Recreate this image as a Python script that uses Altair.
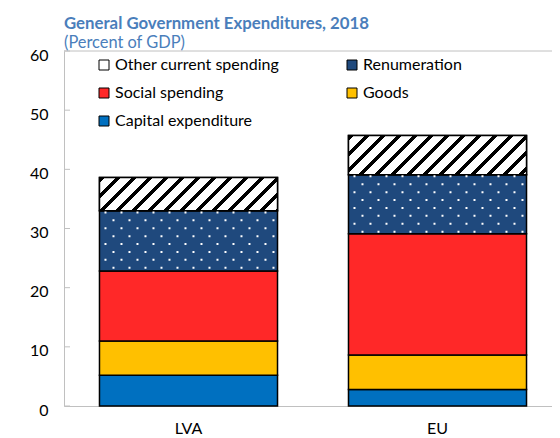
import math
import altair as alt
import pandas as pd

# ---- data (percent of GDP) ----
countries = ["LVA", "EU"]
stack_order = ["Capital expenditure", "Goods", "Social spending", "Renumeration", "Other current spending"]
capital = [5.2, 2.8]
goods = [5.8, 5.8]
social = [11.8, 20.5]
renumeration = [10.2, 10.0]
other = [5.6, 6.6]
y_ticks = [0, 10, 20, 30, 40, 50, 60]

legend_order = ["Other current spending", "Renumeration", "Social spending", "Goods", "Capital expenditure"]
legend_colors = ["#FFFFFF", "#1F497D", "#FF2828", "#FFC000", "#0070C0"]

# ---- layout constants ----
W_PLOT, H_PLOT = 488, 355
X_RANGE = 498
P_INNER, P_OUTER = 0.285, 0.1425
FONT = "Lato"

rows = []
for i, c in enumerate(countries):
    vals = [capital[i], goods[i], social[i], renumeration[i], other[i]]
    s = 0.0
    for name, v in zip(stack_order, vals):
        rows.append({"country": c, "series": name, "start": s, "end": s + v})
        s += v
df = pd.DataFrame(rows)

xscale = alt.Scale(domain=countries, range=[0, X_RANGE], paddingInner=P_INNER, paddingOuter=P_OUTER)
yscale = alt.Scale(domain=[0, 60], nice=False)

x_enc = alt.X("country:N", sort=countries, scale=xscale, title=None,
              axis=alt.Axis(labelAngle=0, ticks=False, domainColor="#C0C0C0", domainWidth=1,
                            labelFont=FONT, labelFontSize=16, labelColor="#000000", labelPadding=14))
y_enc = alt.Y("start:Q", scale=yscale, title=None,
              axis=alt.Axis(values=y_ticks, ticks=False, grid=False, domainColor="#C0C0C0", domainWidth=1,
                            labelFont=FONT, labelFontSize=16, labelColor="#000000", labelPadding=16,
                            labelOffset=4))

bars = alt.Chart(df).mark_bar(stroke="black", strokeWidth=1.5).encode(
    x=x_enc,
    y=y_enc,
    y2="end:Q",
    fill=alt.Fill("series:N", scale=alt.Scale(domain=legend_order, range=legend_colors),
                  legend=alt.Legend(title=None, orient="none", legendX=32, legendY=6, columns=2,
                                    direction="horizontal", labelLimit=400,
                                    columnPadding=64, rowPadding=12, symbolType="square",
                                    symbolSize=100, symbolStrokeColor="black", symbolStrokeWidth=1,
                                    labelFont=FONT, labelFontSize=16, labelColor="#000000",
                                    labelOffset=3, padding=0)),
)

# ---- hatch texture for "Other current spending" (linear gradient with hard stops) ----
step = X_RANGE / (2 - P_INNER + 2 * P_OUTER)
bw = step * (1 - P_INNER)
px_per_unit = H_PLOT / 60.0
period = 16.0
black_frac = 0.34

def hatch(h_units):
    Wd = bw
    Hd = h_units * px_per_unit
    r = Hd / Wd
    s = (Wd + Hd) / (Wd * (1 + r * r))
    P = period / (Wd + Hd)
    stops = []
    k = 0
    while k * P < 1:
        o0 = k * P
        o1 = min(o0 + black_frac * P, 1.0)
        o2 = min((k + 1) * P, 1.0)
        stops += [alt.GradientStop(offset=o0, color="black"), alt.GradientStop(offset=o1, color="black"),
                  alt.GradientStop(offset=o1, color="white"), alt.GradientStop(offset=o2, color="white")]
        k += 1
    return alt.LinearGradient(gradient="linear", stops=stops, x1=0, y1=0, x2=s, y2=s * r)

hatch_layers = []
for i, c in enumerate(countries):
    sub = df[(df.country == c) & (df.series == "Other current spending")]
    hatch_layers.append(
        alt.Chart(sub).mark_bar(fill=hatch(other[i]), stroke="black", strokeWidth=1.5).encode(
            x=alt.X("country:N", sort=countries, scale=xscale), y=alt.Y("start:Q", scale=yscale), y2="end:Q")
    )

# ---- dot texture for "Renumeration" (rows of dashed white rules) ----
dot_pitch = 7.9 / px_per_unit
dot_rows = []
for i, c in enumerate(countries):
    seg = df[(df.country == c) & (df.series == "Renumeration")].iloc[0]
    yv = seg["end"] - 1.7 / px_per_unit
    k = 0
    while yv > seg["start"] + 1.0 / px_per_unit:
        dot_rows.append({"country": c, "y": yv, "odd": k % 2})
        yv -= dot_pitch
        k += 1
dots_df = pd.DataFrame(dot_rows)

dot_layers = []
for odd, off in [(0, 11), (1, 3)]:
    dot_layers.append(
        alt.Chart(dots_df[dots_df.odd == odd]).mark_rule(
            stroke="white", strokeWidth=2, strokeDash=[2, 14], strokeDashOffset=off).encode(
            x=alt.X("country:N", sort=countries, scale=xscale, bandPosition=0),
            x2=alt.X2("country:N", bandPosition=1),
            y=alt.Y("y:Q", scale=yscale),
        )
    )

# ---- inward ticks and top frame line ----
ticks = alt.Chart(pd.DataFrame({"t": y_ticks})).mark_rule(color="#C0C0C0", strokeWidth=1).encode(
    x=alt.value(0), x2=alt.value(6), y=alt.Y("t:Q", scale=yscale))
top_line = alt.Chart(pd.DataFrame({"t": [60]})).mark_rule(color="#C0C0C0", strokeWidth=1).encode(
    x=alt.value(0), x2=alt.value(X_RANGE), y=alt.Y("t:Q", scale=yscale))

chart = alt.layer(bars, *hatch_layers, *dot_layers, ticks, top_line).properties(
    width=W_PLOT, height=H_PLOT,
    title=alt.TitleParams(text="General Government Expenditures, 2018", subtitle="(Percent of GDP)",
                          anchor="start", frame="group", font=FONT, fontSize=16.8, fontWeight="bold",
                          color="#4A7EBB", subtitleFont=FONT, subtitleFontSize=16.4, subtitleColor="#4A7EBB",
                          subtitlePadding=2, offset=0, dy=4),
    autosize=alt.AutoSizeParams(type="none"),
    padding={"left": 56, "top": 43, "right": 0, "bottom": 34},
).configure_view(stroke=None)

chart.save("out.html", embed_options={"renderer": "svg", "actions": False})
